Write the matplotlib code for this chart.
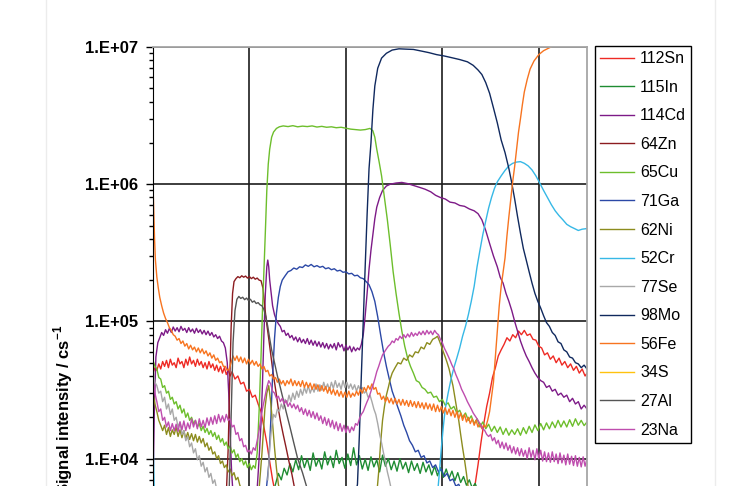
import numpy as np
import matplotlib
matplotlib.use("Agg")
import matplotlib.pyplot as plt
from matplotlib.ticker import LogLocator, FuncFormatter, MultipleLocator, NullFormatter
from matplotlib.lines import Line2D

plt.rcParams['font.family'] = ['Liberation Sans', 'DejaVu Sans']
plt.rcParams['mathtext.fontset'] = 'custom'
plt.rcParams['mathtext.rm'] = 'Liberation Sans'
plt.rcParams['mathtext.bf'] = 'Liberation Sans:bold'

nan = np.nan

# time (s) , signal (cps)
sn112 = [(0, 4.2e4), (2, 4.6e4), (4, 4.4e4), (6, 4.9e4), (8, 4.5e4), (10, 5.1e4), (12, 4.7e4), (14, 5.2e4),
         (16, 4.6e4), (18, 5.3e4), (20, 4.8e4), (22, 5.0e4), (24, 4.6e4), (26, 5.4e4), (28, 4.9e4), (30, 5.1e4),
         (32, 4.6e4), (34, 5.3e4), (36, 4.8e4), (38, 5.5e4), (40, 4.9e4), (42, 5.2e4), (44, 4.7e4), (46, 5.3e4),
         (48, 4.8e4), (50, 5.1e4), (52, 4.6e4), (54, 5.0e4), (56, 4.5e4), (58, 5.1e4), (60, 4.6e4), (62, 4.9e4),
         (64, 4.4e4), (66, 4.8e4), (68, 4.3e4), (70, 4.7e4), (72, 4.2e4), (74, 4.6e4), (76, 4.1e4), (78, 4.4e4),
         (80, 4.0e4), (82, 4.3e4), (85, 3.8e4), (88, 4.0e4), (91, 3.5e4), (94, 3.6e4), (97, 3.1e4), (100, 3.2e4),
         (103, 2.8e4), (106, 2.9e4), (109, 2.5e4), (112, 2.2e4), (115, 1.7e4), (118, 1.3e4), (121, 9.5e3),
         (124, 7.0e3), (127, 5.5e3), (128, nan), (330, nan), (331, 5.5e3), (334, 6.5e3), (337, 9.0e3),
         (340, 1.3e4), (343, 1.8e4), (346, 2.4e4), (349, 3.0e4), (352, 3.9e4), (355, 4.6e4), (358, 5.6e4),
         (361, 6.2e4), (364, 6.8e4), (367, 7.6e4), (370, 7.2e4), (373, 8.0e4), (376, 7.6e4), (379, 8.5e4),
         (382, 8.0e4), (385, 8.6e4), (388, 7.9e4), (391, 8.1e4), (394, 7.4e4), (397, 7.3e4), (400, 6.6e4),
         (403, 6.4e4), (406, 5.7e4), (409, 5.9e4), (412, 5.3e4), (415, 5.6e4), (418, 5.0e4), (421, 5.4e4),
         (424, 4.8e4), (427, 5.1e4), (430, 4.6e4), (433, 4.9e4), (436, 4.4e4), (439, 4.7e4), (442, 4.2e4),
         (445, 4.5e4), (448, 4.0e4), (450, 4.2e4)]

in115 = [(124, 5.5e3), (127, 6.5e3), (130, 7.8e3), (133, 7.0e3), (136, 8.5e3), (139, 7.6e3), (142, 9.2e3),
         (145, 8.0e3), (148, 9.8e3), (151, 8.3e3), (154, 1.05e4), (157, 8.6e3), (160, 1.0e4), (163, 8.2e3),
         (166, 1.1e4), (169, 8.8e3), (172, 1.0e4), (175, 8.4e3), (178, 1.12e4), (181, 9.0e3), (184, 1.04e4),
         (187, 8.6e3), (190, 1.15e4), (193, 9.2e3), (196, 1.02e4), (199, 8.5e3), (202, 1.08e4), (205, 8.9e3),
         (208, 1.2e4), (211, 9.0e3), (214, 1.05e4), (217, 8.4e3), (220, 9.9e3), (223, 8.2e3), (226, 1.03e4),
         (229, 8.7e3), (232, 9.8e3), (235, 8.0e3), (238, 1.06e4), (241, 8.8e3), (244, 1.0e4), (247, 8.3e3),
         (250, 9.6e3), (253, 8.1e3), (256, 1.0e4), (259, 8.4e3), (262, 9.4e3), (265, 7.9e3), (268, 9.6e3),
         (271, 8.2e3), (274, 9.2e3), (277, 7.8e3), (280, 9.4e3), (283, 8.0e3), (286, 9.0e3), (289, 7.6e3),
         (292, 8.8e3), (295, 7.5e3), (298, 8.6e3), (301, 7.3e3), (304, 8.4e3), (307, 7.2e3), (310, 8.1e3),
         (313, 6.9e3), (316, 7.9e3), (319, 6.7e3), (322, 7.4e3), (325, 6.4e3), (328, 7.0e3), (331, 6.1e3),
         (334, 6.6e3), (337, 5.8e3), (340, 6.2e3), (343, 5.5e3), (346, 5.6e3)]

cd114 = [(0, 6.0e3), (1.5, 2.5e4), (3, 5.5e4), (5, 7.0e4), (7, 7.6e4), (9, 8.3e4), (11, 7.9e4), (13, 8.7e4),
         (15, 8.2e4), (17, 8.9e4), (19, 8.3e4), (21, 9.1e4), (23, 8.5e4), (25, 9.0e4), (27, 8.4e4), (29, 9.2e4),
         (31, 8.6e4), (33, 8.9e4), (35, 8.3e4), (37, 9.0e4), (39, 8.4e4), (41, 8.8e4), (43, 8.2e4), (45, 8.9e4),
         (47, 8.3e4), (49, 8.7e4), (51, 8.1e4), (53, 8.6e4), (55, 8.0e4), (57, 8.5e4), (59, 7.9e4), (61, 8.3e4),
         (63, 7.7e4), (65, 8.0e4), (67, 7.5e4), (69, 7.8e4), (71, 7.2e4), (73, 7.0e4), (75, 6.4e4), (77, 5.0e4),
         (78.5, 3.0e4), (80, 1.5e4), (81.5, 8.0e3), (83, 5.5e3), (84, nan), (107, nan), (108, 6.0e3),
         (110, 1.0e4), (112, 1.8e4), (113.5, 3.5e4), (115, 8.0e4), (116.5, 1.6e5), (118, 2.5e5), (119, 2.8e5),
         (120, 2.5e5), (121, 2.0e5), (122.5, 1.6e5), (124, 1.3e5), (126, 1.12e5), (128, 1.02e5), (130, 9.6e4),
         (132, 9.2e4), (134, 8.4e4), (136, 8.6e4), (138, 7.9e4), (140, 8.2e4), (142, 7.6e4), (144, 7.9e4),
         (146, 7.3e4), (148, 7.7e4), (150, 7.1e4), (152, 7.6e4), (154, 7.0e4), (156, 7.4e4), (158, 6.9e4),
         (160, 7.5e4), (162, 6.8e4), (164, 7.3e4), (166, 6.7e4), (168, 7.2e4), (170, 6.6e4), (172, 7.1e4),
         (174, 6.5e4), (176, 7.0e4), (178, 6.4e4), (180, 6.9e4), (182, 6.3e4), (184, 6.8e4), (186, 6.4e4),
         (188, 6.9e4), (190, 6.2e4), (192, 7.0e4), (194, 6.5e4), (196, 6.8e4), (198, 6.1e4), (200, 6.7e4),
         (202, 6.2e4), (204, 6.6e4), (206, 6.0e4), (208, 6.5e4), (210, 6.1e4), (212, 6.4e4), (214, 6.2e4),
         (216, 6.8e4), (218, 8.0e4), (220, 1.1e5), (222, 1.6e5), (224, 2.4e5), (226, 3.3e5), (228, 4.3e5),
         (230, 5.6e5), (232, 6.8e5), (235, 8.0e5), (238, 9.0e5), (242, 9.7e5), (246, 1.0e6), (252, 1.02e6),
         (258, 1.03e6), (264, 1.01e6), (270, 9.8e5), (276, 9.5e5), (282, 9.2e5), (288, 8.8e5), (293, 8.3e5),
         (298, 8.0e5), (303, 7.8e5), (308, 7.4e5), (313, 7.3e5), (318, 7.0e5), (323, 6.9e5), (328, 6.6e5),
         (333, 6.4e5), (337, 6.1e5), (341, 5.5e5), (345, 4.6e5), (349, 3.7e5), (353, 3.0e5), (357, 2.5e5),
         (360, 2.1e5), (363, 1.9e5), (366, 1.6e5), (369, 1.4e5), (372, 1.2e5), (375, 1.0e5), (378, 8.5e4),
         (381, 7.2e4), (384, 6.3e4), (387, 5.6e4), (390, 5.1e4), (393, 4.6e4), (396, 4.2e4), (399, 3.9e4),
         (402, 3.7e4), (405, 3.6e4), (408, 3.3e4), (411, 3.4e4), (414, 3.1e4), (417, 3.2e4), (420, 2.9e4),
         (423, 3.0e4), (426, 2.8e4), (429, 2.9e4), (432, 2.6e4), (435, 2.75e4), (438, 2.5e4), (441, 2.6e4),
         (444, 2.3e4), (447, 2.45e4), (450, 2.3e4)]

zn64 = [(76, 5.5e3), (78, 1.2e4), (79.5, 3.5e4), (81, 9.0e4), (82.5, 1.6e5), (84, 1.95e5), (86, 2.05e5),
        (88, 2.12e5), (90, 2.08e5), (92, 2.15e5), (94, 2.1e5), (96, 2.14e5), (98, 2.07e5), (100, 2.12e5),
        (102, 2.05e5), (104, 2.1e5), (106, 2.03e5), (108, 2.07e5), (110, 2.0e5), (112, 1.98e5), (114, 1.75e5),
        (116, 1.25e5), (118, 9.5e4), (120, 7.5e4), (122, 5.8e4), (124, 4.5e4), (126, 3.6e4), (128, 2.9e4),
        (130, 2.3e4), (132, 1.9e4), (135, 1.5e4), (138, 1.2e4), (141, 9.5e3), (144, 7.7e3), (148, 5.5e3)]

cu65 = [(0, 5.2e4), (2, 4.7e4), (4, 4.5e4), (6, 3.9e4), (8, 3.8e4), (10, 3.3e4), (12, 3.4e4), (14, 3.0e4),
        (16, 3.1e4), (18, 2.7e4), (20, 2.8e4), (22, 2.5e4), (24, 2.6e4), (26, 2.3e4), (28, 2.45e4), (30, 2.15e4),
        (32, 2.3e4), (34, 2.0e4), (36, 2.15e4), (38, 1.9e4), (40, 2.0e4), (42, 1.8e4), (44, 1.9e4), (46, 1.7e4),
        (48, 1.8e4), (50, 1.6e4), (52, 1.72e4), (54, 1.55e4), (56, 1.66e4), (58, 1.5e4), (60, 1.6e4),
        (62, 1.45e4), (64, 1.55e4), (66, 1.38e4), (68, 1.48e4), (70, 1.32e4), (72, 1.4e4), (74, 1.25e4),
        (76, 1.32e4), (78, 1.18e4), (80, 1.24e4), (82, 1.1e4), (84, 1.16e4), (86, 1.02e4), (88, 1.08e4),
        (90, 9.5e3), (92, 1.0e4), (94, 9.0e3), (96, 9.6e3), (98, 8.6e3), (100, 9.2e3), (102, 8.3e3),
        (104, 8.9e3), (106, 8.5e3), (108, 1.1e4), (110, 2.2e4), (112, 5.5e4), (113.5, 1.2e5), (115, 2.3e5),
        (116.5, 4.5e5), (118, 9.0e5), (119.5, 1.4e6), (121, 1.8e6), (123, 2.2e6), (125, 2.4e6), (128, 2.55e6),
        (131, 2.62e6), (135, 2.66e6), (140, 2.63e6), (145, 2.67e6), (150, 2.62e6), (155, 2.65e6),
        (160, 2.63e6), (165, 2.66e6), (170, 2.61e6), (175, 2.64e6), (180, 2.6e6), (185, 2.62e6), (190, 2.58e6),
        (195, 2.6e6), (200, 2.56e6), (205, 2.52e6), (210, 2.5e6), (215, 2.48e6), (220, 2.5e6), (225, 2.55e6),
        (228, 2.45e6), (230, 2.2e6), (232, 1.8e6), (234.5, 1.45e6), (237, 1.15e6), (240, 8.0e5), (243, 5.5e5),
        (246, 3.6e5), (249, 2.3e5), (252, 1.6e5), (255, 1.15e5), (258, 8.5e4), (261, 6.6e4), (264, 5.4e4),
        (267, 4.7e4), (270, 4.2e4), (273, 3.7e4), (276, 3.6e4), (279, 3.3e4), (282, 3.2e4), (285, 3.0e4),
        (288, 3.05e4), (291, 2.8e4), (294, 2.85e4), (297, 2.6e4), (300, 2.7e4), (303, 2.45e4), (306, 2.55e4),
        (309, 2.3e4), (312, 2.4e4), (315, 2.15e4), (318, 2.25e4), (321, 2.0e4), (324, 2.15e4), (327, 1.9e4),
        (330, 2.05e4), (333, 1.8e4), (336, 1.95e4), (339, 1.7e4), (342, 1.85e4), (345, 1.65e4), (348, 1.78e4),
        (351, 1.58e4), (354, 1.72e4), (357, 1.55e4), (360, 1.7e4), (363, 1.5e4), (366, 1.66e4), (369, 1.48e4),
        (372, 1.62e4), (375, 1.5e4), (378, 1.65e4), (381, 1.48e4), (384, 1.68e4), (387, 1.52e4), (390, 1.72e4),
        (393, 1.55e4), (396, 1.76e4), (399, 1.6e4), (402, 1.8e4), (405, 1.62e4), (408, 1.82e4), (411, 1.65e4),
        (414, 1.85e4), (417, 1.68e4), (420, 1.9e4), (423, 1.7e4), (426, 1.88e4), (429, 1.7e4), (432, 1.92e4),
        (435, 1.72e4), (438, 1.95e4), (441, 1.75e4), (444, 1.9e4), (447, 1.74e4), (450, 1.85e4)]

ga71 = [(117, 5.5e3), (120, 9.0e3), (122, 1.8e4), (124, 4.0e4), (126, 7.5e4), (128, 1.15e5), (130, 1.5e5),
        (132, 1.8e5), (134, 2.0e5), (137, 2.15e5), (140, 2.3e5), (143, 2.35e5), (146, 2.45e5), (149, 2.4e5),
        (152, 2.5e5), (155, 2.47e5), (158, 2.58e5), (161, 2.52e5), (164, 2.6e5), (167, 2.5e5), (170, 2.55e5),
        (173, 2.48e5), (176, 2.52e5), (179, 2.42e5), (182, 2.46e5), (185, 2.38e5), (188, 2.42e5), (191, 2.33e5),
        (194, 2.36e5), (197, 2.28e5), (200, 2.3e5), (203, 2.22e5), (206, 2.24e5), (209, 2.15e5), (212, 2.17e5),
        (215, 2.08e5), (218, 2.05e5), (221, 1.95e5), (224, 1.85e5), (227, 1.65e5), (230, 1.4e5), (233, 1.08e5),
        (236, 8.0e4), (239, 6.0e4), (242, 4.7e4), (245, 3.8e4), (248, 3.1e4), (251, 2.7e4), (254, 2.35e4),
        (257, 2.05e4), (260, 1.75e4), (263, 1.55e4), (266, 1.35e4), (269, 1.25e4), (272, 1.12e4), (275, 1.15e4),
        (278, 1.02e4), (281, 1.05e4), (284, 9.3e3), (287, 9.6e3), (290, 8.6e3), (293, 9.0e3), (296, 8.0e3),
        (299, 8.4e3), (302, 7.4e3), (305, 7.8e3), (308, 6.9e3), (311, 7.1e3), (314, 6.3e3), (317, 6.5e3),
        (320, 5.8e3), (323, 6.0e3), (326, 5.3e3)]

ni62 = [(0, 3.0e4), (2, 2.5e4), (4, 2.2e4), (6, 1.9e4), (8, 1.75e4), (10, 1.6e4), (12, 1.75e4), (14, 1.5e4),
        (16, 1.68e4), (18, 1.45e4), (20, 1.62e4), (22, 1.5e4), (24, 1.7e4), (26, 1.45e4), (28, 1.62e4),
        (30, 1.42e4), (32, 1.6e4), (34, 1.4e4), (36, 1.55e4), (38, 1.38e4), (40, 1.52e4), (42, 1.35e4),
        (44, 1.5e4), (46, 1.32e4), (48, 1.45e4), (50, 1.3e4), (52, 1.4e4), (54, 1.22e4), (56, 1.3e4),
        (58, 1.15e4), (60, 1.22e4), (62, 1.08e4), (64, 1.12e4), (66, 1.0e4), (68, 1.05e4), (70, 9.2e3),
        (72, 9.6e3), (74, 8.6e3), (76, 9.0e3), (78, 8.0e3), (80, 8.4e3), (82, 7.5e3), (84, 7.9e3), (86, 7.0e3),
        (88, 7.3e3), (90, 6.4e3), (92, 6.0e3), (93, nan), (109, nan), (110, 6.0e3), (113, 1.1e4), (116, 2.3e4),
        (118, 3.0e4), (120, 3.4e4), (122, 2.6e4), (124, 1.8e4), (126, 1.2e4), (128, 8.5e3), (130, 6.5e3),
        (132, 5.5e3), (133, nan), (231, nan), (232, 5.5e3), (234, 8.0e3), (236, 1.3e4), (238, 1.9e4),
        (240, 2.4e4), (242, 2.9e4), (244, 3.3e4), (246, 3.8e4), (248, 4.2e4), (251, 4.6e4), (254, 5.0e4),
        (257, 4.9e4), (260, 5.4e4), (263, 5.2e4), (266, 5.7e4), (269, 5.5e4), (272, 6.0e4), (275, 5.9e4),
        (278, 6.5e4), (281, 6.3e4), (284, 7.0e4), (287, 6.8e4), (290, 7.4e4), (293, 7.6e4), (295, 7.8e4),
        (297, 7.2e4), (299, 6.6e4), (301, 6.0e4), (303, 5.5e4), (305, 5.0e4), (307, 4.5e4), (309, 3.9e4),
        (311, 3.4e4), (313, 2.8e4), (315, 2.3e4), (317, 1.9e4), (319, 1.5e4), (321, 1.2e4), (323, 9.8e3),
        (325, 7.8e3), (327, 6.0e3)]

cr52 = [(0, 1.5e4), (1.5, 5.0e3), (2, nan), (294, nan), (295, 5.5e3), (297, 8.0e3), (299, 1.2e4), (301, 1.7e4),
        (303, 2.3e4), (306, 3.0e4), (309, 3.8e4), (312, 4.6e4), (315, 5.4e4), (318, 6.4e4), (321, 7.8e4),
        (324, 9.2e4), (327, 1.12e5), (330, 1.4e5), (333, 1.8e5), (336, 2.5e5), (339, 3.3e5), (342, 4.3e5),
        (345, 5.4e5), (348, 6.7e5), (351, 8.0e5), (354, 9.3e5), (357, 1.04e6), (361, 1.15e6), (365, 1.26e6),
        (369, 1.36e6), (373, 1.42e6), (377, 1.45e6), (381, 1.46e6), (385, 1.42e6), (389, 1.36e6), (393, 1.27e6),
        (397, 1.15e6), (401, 1.02e6), (405, 9.0e5), (409, 8.0e5), (413, 7.1e5), (417, 6.4e5), (421, 5.9e5),
        (425, 5.5e5), (429, 5.1e5), (433, 4.9e5), (437, 4.75e5), (441, 4.6e5), (445, 4.7e5), (450, 4.75e5)]

se77 = [(0, 4.5e4), (2, 3.6e4), (4, 3.4e4), (6, 3.0e4), (8, 3.1e4), (10, 2.6e4), (12, 2.8e4), (14, 2.3e4),
        (16, 2.5e4), (18, 2.1e4), (20, 2.3e4), (22, 1.9e4), (24, 2.0e4), (26, 1.7e4), (28, 1.85e4), (30, 1.5e4),
        (32, 1.6e4), (34, 1.35e4), (36, 1.45e4), (38, 1.22e4), (40, 1.3e4), (42, 1.1e4), (44, 1.18e4),
        (46, 9.8e3), (48, 1.05e4), (50, 8.8e3), (52, 9.4e3), (54, 8.0e3), (56, 8.6e3), (58, 7.3e3), (60, 7.8e3),
        (62, 6.6e3), (64, 7.0e3), (66, 6.0e3), (68, 6.2e3), (70, 5.4e3), (71, nan), (118, nan), (119, 7.0e3),
        (121, 1.2e4), (123, 1.7e4), (125, 2.1e4), (127, 2.0e4), (129, 2.3e4), (131, 2.2e4), (133, 2.5e4),
        (135, 2.3e4), (137, 2.7e4), (139, 2.5e4), (141, 2.9e4), (143, 2.6e4), (145, 3.0e4), (147, 2.7e4),
        (149, 3.1e4), (151, 2.8e4), (153, 3.2e4), (155, 2.9e4), (157, 3.3e4), (159, 3.0e4), (161, 3.4e4),
        (163, 3.0e4), (165, 3.3e4), (167, 3.05e4), (169, 3.5e4), (171, 3.1e4), (173, 3.45e4), (175, 3.15e4),
        (177, 3.6e4), (179, 3.2e4), (181, 3.5e4), (183, 3.15e4), (185, 3.6e4), (187, 3.25e4), (189, 3.7e4),
        (191, 3.3e4), (193, 3.55e4), (195, 3.2e4), (197, 3.7e4), (199, 3.3e4), (201, 3.6e4), (203, 3.25e4),
        (205, 3.5e4), (207, 3.2e4), (209, 3.45e4), (211, 3.1e4), (213, 3.4e4), (215, 3.15e4), (217, 3.3e4),
        (219, 3.0e4), (221, 3.1e4), (223, 2.8e4), (225, 2.9e4), (227, 2.6e4), (229, 2.3e4), (231, 2.1e4),
        (233, 1.8e4), (235, 1.5e4), (237, 1.3e4), (239, 1.1e4), (241, 9.5e3), (243, 8.0e3), (245, 7.0e3),
        (247, 6.0e3), (249, 5.3e3)]

mo98 = [(210, 5.5e3), (212, 6.5e3), (214, 1.5e4), (216, 4.0e4), (218, 1.0e5), (220, 2.5e5), (222, 6.0e5),
        (224, 1.3e6), (226, 2.0e6), (228, 3.5e6), (230, 5.2e6), (233, 7.0e6), (237, 8.3e6), (242, 9.0e6),
        (248, 9.5e6), (255, 9.7e6), (262, 9.65e6), (270, 9.6e6), (278, 9.35e6), (286, 9.1e6), (294, 8.8e6),
        (302, 8.6e6), (310, 8.35e6), (318, 8.1e6), (326, 7.8e6), (332, 7.35e6), (337, 6.8e6), (341, 6.3e6),
        (345, 5.5e6), (349, 4.6e6), (353, 3.6e6), (357, 2.8e6), (361, 2.1e6), (365, 1.7e6), (369, 1.3e6),
        (372, 1.02e6), (375, 7.8e5), (378, 5.8e5), (381, 4.4e5), (384, 3.4e5), (387, 2.8e5), (390, 2.3e5),
        (393, 1.9e5), (396, 1.6e5), (399, 1.4e5), (402, 1.25e5), (405, 1.1e5), (408, 9.8e4), (411, 9.2e4),
        (414, 8.3e4), (417, 7.9e4), (420, 7.1e4), (423, 6.9e4), (426, 6.2e4), (429, 6.0e4), (432, 5.5e4),
        (435, 5.4e4), (438, 5.0e4), (441, 4.9e4), (444, 4.6e4), (447, 4.8e4), (450, 4.5e4)]

fe56 = [(0, 1.0e6), (0.8, 6.5e5), (1.6, 4.0e5), (2.5, 2.8e5), (4, 2.1e5), (5.5, 1.75e5), (7, 1.5e5), (9, 1.3e5),
        (11, 1.15e5), (13, 1.05e5), (15, 9.8e4), (17, 9.0e4), (19, 8.6e4), (21, 8.0e4), (23, 7.8e4), (25, 7.3e4),
        (27, 7.5e4), (29, 6.9e4), (31, 7.2e4), (33, 6.6e4), (35, 6.9e4), (37, 6.3e4), (39, 6.7e4), (41, 6.2e4),
        (43, 6.5e4), (45, 6.0e4), (47, 6.4e4), (49, 5.9e4), (51, 6.3e4), (53, 5.8e4), (55, 6.1e4), (57, 5.6e4),
        (59, 5.9e4), (61, 5.4e4), (63, 5.7e4), (65, 5.2e4), (67, 5.4e4), (69, 5.0e4), (71, 5.1e4), (73, 4.7e4),
        (75, 4.7e4), (77, 4.4e4), (79, 4.5e4), (81, 5.0e4), (83, 5.6e4), (85, 5.2e4), (87, 5.6e4), (89, 5.1e4),
        (91, 5.5e4), (93, 5.0e4), (95, 5.4e4), (97, 4.9e4), (99, 5.3e4), (101, 4.9e4), (103, 5.2e4), (105, 4.8e4),
        (107, 5.1e4), (109, 4.7e4), (111, 4.9e4), (113, 4.5e4), (115, 4.7e4), (117, 4.3e4), (119, 4.4e4),
        (121, 4.0e4), (123, 4.1e4), (125, 3.8e4), (127, 3.9e4), (129, 3.6e4), (131, 3.8e4), (133, 3.5e4),
        (135, 3.7e4), (137, 3.4e4), (139, 3.7e4), (141, 3.5e4), (143, 3.8e4), (145, 3.4e4), (147, 3.7e4),
        (149, 3.4e4), (151, 3.65e4), (153, 3.35e4), (155, 3.7e4), (157, 3.3e4), (159, 3.6e4), (161, 3.3e4),
        (163, 3.55e4), (165, 3.2e4), (167, 3.5e4), (169, 3.2e4), (171, 3.45e4), (173, 3.1e4), (175, 3.4e4),
        (177, 3.1e4), (179, 3.35e4), (181, 3.0e4), (183, 3.3e4), (185, 2.95e4), (187, 3.2e4), (189, 2.9e4),
        (191, 3.15e4), (193, 2.85e4), (195, 3.1e4), (197, 2.8e4), (199, 3.05e4), (201, 2.8e4), (203, 3.1e4),
        (205, 2.8e4), (207, 3.0e4), (209, 2.85e4), (211, 3.1e4), (213, 2.9e4), (215, 3.2e4), (217, 3.0e4),
        (219, 3.3e4), (221, 3.1e4), (223, 3.4e4), (225, 3.2e4), (227, 3.5e4), (229, 3.2e4), (231, 3.3e4),
        (233, 2.95e4), (235, 3.0e4), (237, 2.7e4), (239, 2.85e4), (241, 2.6e4), (243, 2.8e4), (245, 2.55e4),
        (247, 2.75e4), (249, 2.5e4), (251, 2.75e4), (253, 2.5e4), (255, 2.7e4), (257, 2.45e4), (259, 2.7e4),
        (261, 2.45e4), (263, 2.65e4), (265, 2.4e4), (267, 2.65e4), (269, 2.4e4), (271, 2.6e4), (273, 2.35e4),
        (275, 2.6e4), (277, 2.35e4), (279, 2.55e4), (281, 2.3e4), (283, 2.55e4), (285, 2.3e4), (287, 2.5e4),
        (289, 2.25e4), (291, 2.5e4), (293, 2.2e4), (295, 2.45e4), (297, 2.2e4), (299, 2.4e4), (301, 2.15e4),
        (303, 2.35e4), (305, 2.1e4), (307, 2.3e4), (309, 2.05e4), (311, 2.25e4), (313, 2.0e4), (315, 2.2e4),
        (317, 1.95e4), (319, 2.15e4), (321, 1.9e4), (323, 2.1e4), (325, 1.85e4), (327, 2.0e4), (329, 1.8e4),
        (331, 1.95e4), (333, 1.75e4), (335, 1.9e4), (337, 1.7e4), (339, 1.8e4), (341, 1.65e4), (343, 1.75e4),
        (345, 1.7e4), (347, 1.9e4), (349, 2.2e4), (351, 2.8e4), (353, 3.6e4), (355, 5.5e4), (357, 8.5e4),
        (359, 1.3e5), (361, 1.8e5), (363, 2.3e5), (365, 2.9e5), (367, 4.2e5), (369, 5.8e5), (371, 7.8e5),
        (373, 1.05e6), (375, 1.35e6), (377, 1.8e6), (379, 2.4e6), (381, 3.0e6), (383, 3.8e6), (385, 4.7e6),
        (388, 5.8e6), (391, 6.9e6), (395, 7.9e6), (400, 8.8e6), (405, 9.4e6), (410, 9.8e6), (415, 1.02e7),
        (420, 1.06e7), (450, 1.1e7)]

s34 = []  # stays below the visible range

al27 = [(79, 6.0e3), (81, 2.0e4), (83, 7.0e4), (85, 1.2e5), (87, 1.45e5), (89, 1.52e5), (91, 1.47e5), (93, 1.5e5),
        (95, 1.44e5), (97, 1.48e5), (99, 1.42e5), (101, 1.45e5), (103, 1.38e5), (105, 1.41e5), (107, 1.35e5),
        (109, 1.37e5), (111, 1.32e5), (113, 1.3e5), (115, 1.22e5), (117, 1.08e5), (119, 9.2e4), (121, 7.5e4),
        (123, 6.2e4), (126, 5.0e4), (129, 4.0e4), (132, 3.3e4), (135, 2.7e4), (138, 2.2e4), (142, 1.7e4),
        (146, 1.3e4), (150, 1.0e4), (155, 7.9e3), (160, 6.0e3)]

na23 = [(0, 3.8e4), (2, 3.0e4), (4, 2.6e4), (6, 2.2e4), (8, 2.3e4), (10, 1.9e4), (12, 2.0e4), (14, 1.7e4),
        (16, 1.85e4), (18, 1.6e4), (20, 1.8e4), (22, 1.6e4), (24, 1.78e4), (26, 1.58e4), (28, 1.85e4),
        (30, 1.62e4), (32, 1.88e4), (34, 1.6e4), (36, 1.82e4), (38, 1.65e4), (40, 1.95e4), (42, 1.7e4),
        (44, 1.9e4), (46, 1.65e4), (48, 1.95e4), (50, 1.7e4), (52, 1.9e4), (54, 1.68e4), (56, 1.98e4),
        (58, 1.75e4), (60, 2.0e4), (62, 1.78e4), (64, 2.05e4), (66, 1.8e4), (68, 2.1e4), (70, 1.85e4),
        (72, 2.05e4), (74, 1.85e4), (76, 2.1e4), (78, 1.9e4), (80, 1.95e4), (82, 1.7e4), (84, 1.75e4),
        (86, 1.5e4), (88, 1.55e4), (90, 1.35e4), (92, 1.4e4), (94, 1.22e4), (96, 1.25e4), (98, 1.12e4),
        (100, 1.15e4), (102, 1.08e4), (104, 1.2e4), (106, 1.15e4), (108, 1.35e4), (110, 1.6e4), (112, 2.0e4),
        (114, 2.4e4), (116, 2.8e4), (118, 3.3e4), (120, 3.7e4), (122, 3.5e4), (124, 3.1e4), (126, 3.0e4),
        (128, 2.75e4), (130, 2.85e4), (132, 2.6e4), (134, 2.75e4), (136, 2.5e4), (138, 2.65e4), (140, 2.4e4),
        (142, 2.55e4), (144, 2.35e4), (146, 2.5e4), (148, 2.3e4), (150, 2.45e4), (152, 2.2e4), (154, 2.35e4),
        (156, 2.1e4), (158, 2.3e4), (160, 2.05e4), (162, 2.25e4), (164, 2.0e4), (166, 2.2e4), (168, 1.95e4),
        (170, 2.15e4), (172, 1.9e4), (174, 2.05e4), (176, 1.8e4), (178, 2.0e4), (180, 1.75e4), (182, 1.95e4),
        (184, 1.7e4), (186, 1.9e4), (188, 1.65e4), (190, 1.85e4), (192, 1.6e4), (194, 1.8e4), (196, 1.58e4),
        (198, 1.75e4), (200, 1.55e4), (202, 1.72e4), (204, 1.55e4), (206, 1.7e4), (208, 1.6e4), (210, 1.8e4),
        (212, 1.75e4), (214, 1.95e4), (216, 2.1e4), (218, 2.2e4), (220, 2.4e4), (222, 2.6e4), (224, 2.8e4),
        (226, 3.1e4), (228, 3.4e4), (230, 3.8e4), (232, 4.3e4), (234, 4.7e4), (236, 5.2e4), (238, 5.7e4),
        (240, 6.0e4), (242, 6.3e4), (244, 6.6e4), (246, 6.8e4), (248, 7.2e4), (250, 7.0e4), (252, 7.5e4),
        (254, 7.3e4), (256, 7.8e4), (258, 7.5e4), (260, 8.0e4), (262, 7.6e4), (264, 8.1e4), (266, 7.7e4),
        (268, 8.3e4), (270, 7.8e4), (272, 8.2e4), (274, 7.9e4), (276, 8.4e4), (278, 8.0e4), (280, 8.5e4),
        (282, 8.0e4), (284, 8.6e4), (286, 8.1e4), (288, 8.5e4), (290, 8.0e4), (292, 8.6e4), (294, 8.2e4),
        (296, 8.0e4), (298, 7.4e4), (300, 7.0e4), (302, 6.4e4), (304, 6.0e4), (306, 5.6e4), (308, 5.2e4),
        (310, 4.8e4), (312, 4.5e4), (314, 4.1e4), (316, 3.8e4), (318, 3.5e4), (320, 3.2e4), (322, 3.0e4),
        (324, 2.8e4), (326, 2.6e4), (328, 2.45e4), (330, 2.3e4), (332, 2.15e4), (334, 2.05e4), (336, 1.95e4),
        (338, 1.85e4), (340, 1.75e4), (342, 1.65e4), (344, 1.6e4), (346, 1.5e4), (348, 1.45e4), (350, 1.5e4),
        (352, 1.35e4), (354, 1.42e4), (356, 1.28e4), (358, 1.36e4), (360, 1.2e4), (362, 1.32e4), (364, 1.18e4),
        (366, 1.3e4), (368, 1.15e4), (370, 1.25e4), (372, 1.1e4), (374, 1.22e4), (376, 1.08e4), (378, 1.2e4),
        (380, 1.05e4), (382, 1.18e4), (384, 1.04e4), (386, 1.15e4), (388, 1.0e4), (390, 1.2e4), (392, 1.02e4),
        (394, 1.15e4), (396, 9.8e3), (398, 1.18e4), (400, 1.0e4), (402, 1.15e4), (404, 9.6e3), (406, 1.12e4),
        (408, 9.5e3), (410, 1.1e4), (412, 9.4e3), (414, 1.12e4), (416, 9.5e3), (418, 1.08e4), (420, 9.2e3),
        (422, 1.1e4), (424, 9.3e3), (426, 1.06e4), (428, 9.0e3), (430, 1.08e4), (432, 9.1e3), (434, 1.04e4),
        (436, 8.9e3), (438, 1.05e4), (440, 8.8e3), (442, 1.02e4), (444, 8.7e3), (446, 1.03e4), (448, 8.8e3),
        (450, 1.0e4)]

labels = ["112Sn", "115In", "114Cd", "64Zn", "65Cu", "71Ga", "62Ni", "52Cr",
          "77Se", "98Mo", "56Fe", "34S", "27Al", "23Na"]
series = [sn112, in115, cd114, zn64, cu65, ga71, ni62, cr52, se77, mo98, fe56, s34, al27, na23]
colors = ["#EE2A24", "#1E8C32", "#7D1A87", "#8C1C20", "#6DBE2C", "#2B48A6", "#8C8C1E",
          "#36B8E6", "#A8A8A8", "#10295E", "#F77420", "#FFC20E", "#555555", "#BF4DAE"]

W, H = 741, 486
fig = plt.figure(figsize=(W / 100, H / 100), dpi=100)
# plot area: left 153px, right 587px, top 47px; 1E+02 sits below the visible picture
ax = fig.add_axes([153 / W, (H - 733) / H, 434 / W, 686 / H])

handles = []
for data, lab, col in zip(series, labels, colors):
    if data:
        t = [p[0] for p in data]
        v = [p[1] for p in data]
    else:
        t, v = [], []
    ln, = ax.plot(t, v, color=col, lw=1.0, label=lab)
    handles.append(ln)


def ylab(v, pos):
    # decades below the visible crop get no label
    if v < 1e4:
        return ""
    return "1.E+%02d" % int(round(np.log10(v)))


ax.set_yscale('log')
ax.set_ylim(1e2, 1e7)
ax.set_xlim(0, 450)
ax.xaxis.set_major_locator(MultipleLocator(100))
ax.yaxis.set_major_locator(LogLocator(base=10, numticks=10))
ax.yaxis.set_minor_locator(LogLocator(base=10, subs=np.arange(2, 10), numticks=10))
ax.yaxis.set_minor_formatter(NullFormatter())
ax.yaxis.set_major_formatter(FuncFormatter(ylab))
ax.tick_params(axis='y', which='major', length=5, width=1, pad=6, labelsize=12)
ax.tick_params(axis='y', which='minor', length=3, width=1)
ax.tick_params(axis='x', labelbottom=False, length=0)
for lab in ax.get_yticklabels():
    lab.set_fontweight('bold')

ax.grid(True, which='major', color='#1c1c1c', lw=1.2)
ax.set_axisbelow(True)
ax.spines['left'].set_color('black')
ax.spines['top'].set_color('#A6A6A6')
ax.spines['right'].set_color('#A6A6A6')
ax.spines['top'].set_linewidth(1.3)
ax.spines['right'].set_linewidth(1.3)

fig.text(63 / W, 1 - 410 / H, r"Signal intensity / cs$^{\mathbf{-1}}$", rotation=90,
         ha='center', va='center', fontsize=12, fontweight='bold')

leg = fig.legend(handles, labels, loc='upper left', bbox_to_anchor=(595 / W, 1 - 46 / H),
                 frameon=True, fancybox=False, framealpha=1, edgecolor='black',
                 fontsize=11.5, borderpad=0.32, labelspacing=0.85, handlelength=2.1,
                 handletextpad=0.4, borderaxespad=0)
leg.get_frame().set_linewidth(1.0)

# faint chart-area border
for xp in (46, 715):
    fig.add_artist(Line2D([xp / W, xp / W], [0, 1], color='#ECECEC', lw=1.0))

fig.savefig("out.png", dpi=100)
